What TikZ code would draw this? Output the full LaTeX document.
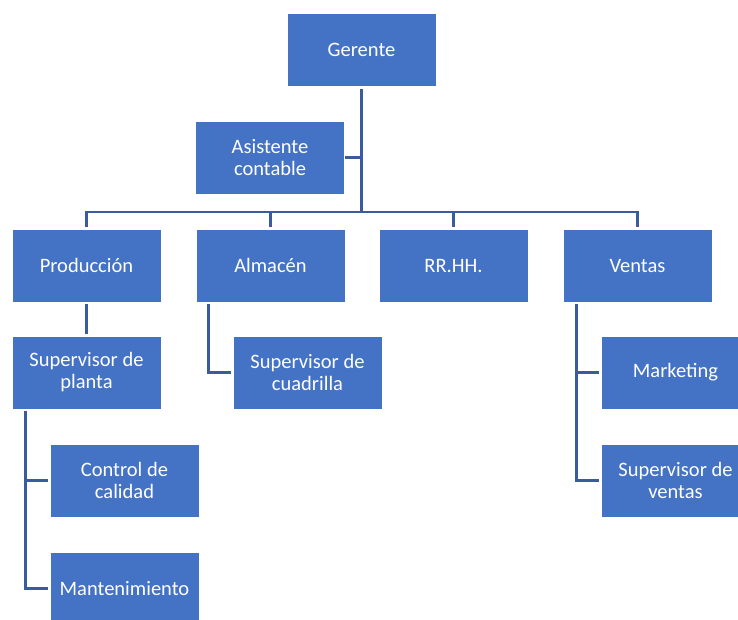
\documentclass[tikz,border=0pt]{standalone}
\usepackage{fontspec}
\setmainfont{Carlito}
\definecolor{boxblue}{HTML}{4472C4}
\definecolor{lineblue}{HTML}{3A5C9C}
\begin{document}
\begin{tikzpicture}[x=1pt,y=-1pt,
  orgbox/.style={draw=white, line width=0.8pt, fill=boxblue, text=white,
    minimum width=149pt, minimum height=73pt, inner sep=2pt, align=center,
    font=\fontsize{20.5}{22}\selectfont},
  conn/.style={draw=lineblue, line width=2.6pt, shorten <=2pt, shorten >=2pt}]
\clip (0,0) rectangle (738,619);
\useasboundingbox (0,0) rectangle (738,619);
\fill[white] (0,0) rectangle (738,619);
\coordinate (bus) at (0,212);
\node[orgbox] (ger) at (361.5,50) {Gerente};
\node[orgbox] (asi) at (270,157.5) {Asistente\\contable};
\node[orgbox] (prod) at (86.5,265.5) {Producción};
\node[orgbox] (alm) at (270.5,265.5) {Almacén};
\node[orgbox] (rrhh) at (453.5,265.5) {RR.HH.};
\node[orgbox] (ven) at (637.5,265.5) {Ventas};
\node[orgbox] (supp) at (86.5,372.5) {Supervisor de\\planta};
\node[orgbox] (supc) at (307.5,372.5) {Supervisor de\\cuadrilla};
\node[orgbox] (mkt) at (675.5,372.5) {Marketing};
\node[orgbox] (supv) at (675.5,480.5) {Supervisor de\\ventas};
\node[orgbox] (ctrl) at (124.5,480.5) {Control de\\calidad};
\node[orgbox] (man) at (124.5,588.5) {Mantenimiento};
% connectors
\draw[conn, shorten >=0pt] (ger.south) -- (ger.south |- bus);
\draw[conn, shorten <=0pt] (asi.east) -- (asi.east -| ger.south);
\draw[conn] (prod.north) |- (ven.north |- bus) -- (ven.north);
\draw[conn, shorten <=0pt] (alm.north |- bus) -- (alm.north);
\draw[conn, shorten <=0pt] (rrhh.north |- bus) -- (rrhh.north);
\draw[conn] (prod.south) -- (supp.north);
\draw[conn] ([xshift=13pt]alm.south west) |- (supc.west);
\draw[conn] ([xshift=14pt]supp.south west) |- (ctrl.west);
\draw[conn] ([xshift=14pt]supp.south west) |- (man.west);
\draw[conn] ([xshift=14pt]ven.south west) |- (mkt.west);
\draw[conn] ([xshift=14pt]ven.south west) |- (supv.west);
\end{tikzpicture}
\end{document}
